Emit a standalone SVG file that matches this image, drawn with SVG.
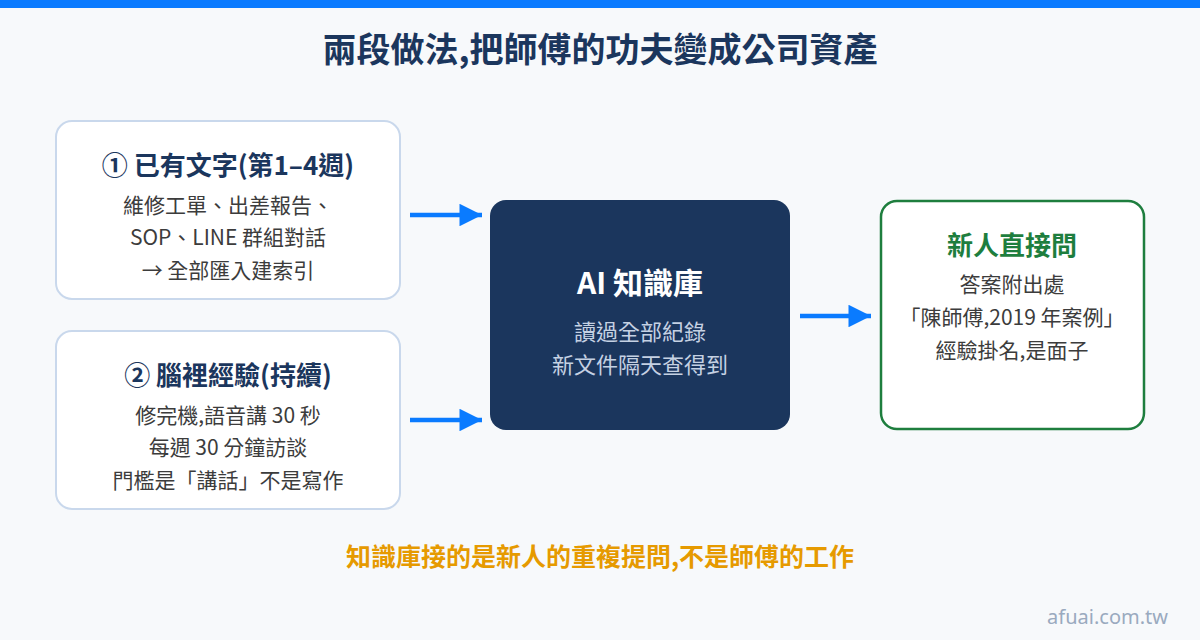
<svg xmlns="http://www.w3.org/2000/svg" width="1200" height="640" viewBox="0 0 1200 640">
<defs>
<style>
text{font-family:"Noto Sans CJK TC","Noto Sans",sans-serif;text-anchor:middle}
.title{font-size:34px;font-weight:700;fill:#1B365D}
.side{fill:#FFFFFF;stroke:#C9D8EC;stroke-width:2}
.h{font-size:26px;font-weight:700;fill:#1B365D}
.b{font-size:21px;fill:#3C3C3C}
.ch{font-size:30px;font-weight:700;fill:#FFFFFF}
.cb{font-size:22px;fill:#C5D1E3}
.gh{font-size:26px;font-weight:700;fill:#1E7E3E}
.conn{stroke:#0A7BFF;stroke-width:4.5;fill:none}
.foot{font-size:25px;font-weight:700;fill:#E69A00}
.wm{font-size:20px;fill:#9AAABF;text-anchor:end;font-family:"Noto Sans",sans-serif}
</style>
<marker id="ah" viewBox="0 0 10 10" refX="10" refY="5" markerWidth="5.2" markerHeight="5" markerUnits="strokeWidth" orient="auto">
<path d="M0,0 L10,5 L0,10 z" fill="#0A7BFF"/>
</marker>
</defs>
<rect width="1200" height="640" fill="#F7F9FB"/>
<rect width="1200" height="8" fill="#0A7BFF"/>
<text class="title" x="600" y="62">兩段做法,把師傅的功夫變成公司資產</text>
<g id="node-text">
<rect class="side" x="56" y="121" width="344" height="178" rx="16"/>
<text class="h" x="228" y="175">① 已有文字(第1–4週)</text>
<text class="b" x="228" y="213">維修工單、出差報告、</text>
<text class="b" x="228" y="245">SOP、LINE 群組對話</text>
<text class="b" x="228" y="278">→ 全部匯入建索引</text>
</g>
<g id="node-brain">
<rect class="side" x="56" y="331" width="344" height="178" rx="16"/>
<text class="h" x="228" y="385">② 腦裡經驗(持續)</text>
<text class="b" x="228" y="423">修完機,語音講 30 秒</text>
<text class="b" x="228" y="455">每週 30 分鐘訪談</text>
<text class="b" x="228" y="488">門檻是「講話」不是寫作</text>
</g>
<g id="node-kb">
<rect x="490" y="200" width="300" height="230" rx="16" fill="#1B365D"/>
<text class="ch" x="640" y="294">AI 知識庫</text>
<text class="cb" x="640" y="340">讀過全部紀錄</text>
<text class="cb" x="640" y="373">新文件隔天查得到</text>
</g>
<g id="node-ask">
<rect x="881" y="201" width="263" height="228" rx="16" fill="#FFFFFF" stroke="#1E7E3E" stroke-width="2.5"/>
<text class="gh" x="1012" y="255">新人直接問</text>
<text class="b" x="1012" y="292">答案附出處</text>
<text class="b" x="1012" y="325">「陳師傅,2019 年案例」</text>
<text class="b" x="1012" y="358">經驗掛名,是面子</text>
</g>
<g id="connectors">
<line class="conn" x1="410" y1="215" x2="482" y2="215" marker-end="url(#ah)"/>
<line class="conn" x1="410" y1="420" x2="482" y2="420" marker-end="url(#ah)"/>
<line class="conn" x1="800" y1="316" x2="871" y2="316" marker-end="url(#ah)"/>
</g>
<text class="foot" x="600" y="566">知識庫接的是新人的重複提問,不是師傅的工作</text>
<text class="wm" x="1168" y="624">afuai.com.tw</text>
</svg>
